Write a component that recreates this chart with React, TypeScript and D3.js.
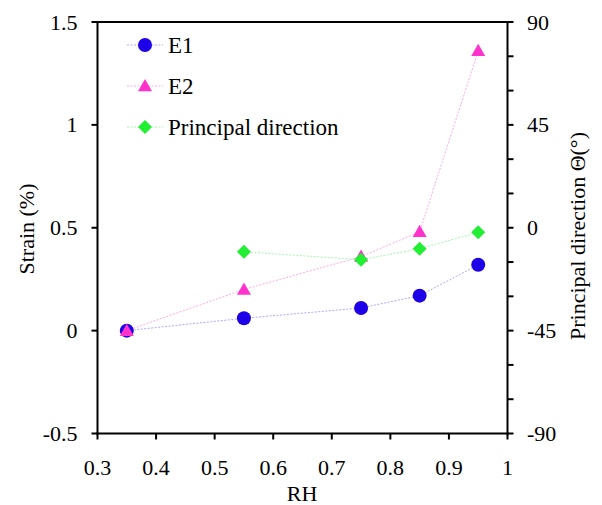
import React, { useEffect, useRef } from "react";
import * as d3 from "d3";

const rh = [0.35, 0.55, 0.75, 0.85, 0.95];
const e1 = [0.0, 0.06, 0.11, 0.17, 0.32];
const e2 = [0.0, 0.2, 0.36, 0.48, 1.36];
const pdX = [0.55, 0.75, 0.85, 0.95];
const pdVals = [-10.5, -14, -9.2, -2];
const xTicks = [0.3, 0.4, 0.5, 0.6, 0.7, 0.8, 0.9, 1];
const yTicks = [-0.5, 0, 0.5, 1, 1.5];
const y2Ticks = [-90, -75, -60, -45, -30, -15, 0, 15, 30, 45, 60, 75, 90];
const y2Labels = [-90, -45, 0, 45, 90];
const legendLabels = ["E1", "E2", "Principal direction"];

const W = 602, H = 505;
const L = 97.5, R = 507.5, T = 22, B = 433.5;
const FONT = '"Liberation Serif"';

export default function App() {
  const ref = useRef<SVGSVGElement>(null);

  useEffect(() => {
    const svg = d3.select(ref.current);
    svg.selectAll("*").remove();

    const x = d3.scaleLinear().domain([0.3, 1]).range([L, R]);
    const y = d3.scaleLinear().domain([-0.5, 1.5]).range([B, T]);
    const y2 = d3.scaleLinear().domain([-90, 90]).range([B, T]);
    const line = d3.line<[number, number]>().x(d => d[0]).y(d => d[1]);

    const e1Pts: [number, number][] = rh.map((v, i) => [x(v), y(e1[i])]);
    const e2Pts: [number, number][] = rh.map((v, i) => [x(v), y(e2[i])]);
    const pdPts: [number, number][] = pdX.map((v, i) => [x(v), y2(pdVals[i])]);

    const cBlue = "#1e00e8", cPink = "#ff33cc", cGreen = "#22ee33";
    const lBlue = "#b0a8ff", lPink = "#ffaae6", lGreen = "#a8f5b0";

    const tri = (cx: number, cy: number, s = 7) =>
      `M${cx},${cy - s} L${cx + s},${cy + s * 0.75} L${cx - s},${cy + s * 0.75} Z`;
    const dia = (cx: number, cy: number, s = 7) =>
      `M${cx},${cy - s} L${cx + s},${cy} L${cx},${cy + s} L${cx - s},${cy} Z`;

    svg.append("rect").attr("width", W).attr("height", H).attr("fill", "#fff");

    const series: [[number, number][], string][] = [[e1Pts, lBlue], [e2Pts, lPink], [pdPts, lGreen]];
    series.forEach(([pts, c]) => {
      svg.append("path").attr("d", line(pts) || "").attr("fill", "none")
        .attr("stroke", c).attr("stroke-width", 1).attr("stroke-dasharray", "2,1.5");
    });
    e1Pts.forEach(p => svg.append("circle").attr("cx", p[0]).attr("cy", p[1]).attr("r", 7).attr("fill", cBlue));
    e2Pts.forEach(p => svg.append("path").attr("d", tri(p[0], p[1])).attr("fill", cPink));
    pdPts.forEach(p => svg.append("path").attr("d", dia(p[0], p[1])).attr("fill", cGreen));

    const ax = svg.append("g").attr("stroke", "#000").attr("stroke-width", 2).attr("fill", "none");
    ax.append("line").attr("x1", L).attr("y1", T).attr("x2", L).attr("y2", B + 1);
    ax.append("line").attr("x1", L - 1).attr("y1", B).attr("x2", R + 1).attr("y2", B);
    ax.append("line").attr("x1", R).attr("y1", T).attr("x2", R).attr("y2", B + 1);
    ax.append("line").attr("x1", L - 1).attr("y1", T).attr("x2", R + 1).attr("y2", T);
    yTicks.forEach(t => ax.append("line").attr("x1", L - 6).attr("x2", L).attr("y1", y(t)).attr("y2", y(t)));
    xTicks.forEach(t => ax.append("line").attr("x1", x(t)).attr("x2", x(t)).attr("y1", B).attr("y2", B + 6));
    y2Ticks.forEach(t => ax.append("line").attr("x1", R).attr("x2", R + 6).attr("y1", y2(t)).attr("y2", y2(t)));

    const txt = (s: string, px: number, py: number, anchor: string, size = 22, transform?: string) => {
      const t = svg.append("text")
        .attr("x", px).attr("y", py)
        .attr("text-anchor", anchor)
        .attr("font-family", "Liberation Serif")
        .attr("font-size", size)
        .attr("fill", "#000")
        .style("font-family", FONT)
        .style("font-size", `${size}px`)
        .text(s);
      if (transform) t.attr("transform", transform);
      return t;
    };

    yTicks.forEach(t => txt(String(t), L - 20, y(t) + 7.5, "end"));
    xTicks.forEach(t => txt(String(t), x(t), 475, "middle"));
    y2Labels.forEach(t => txt(String(t), 527, y2(t) + 7.5, "start"));
    txt("RH", 302, 501, "middle");
    txt("Strain (%)", 0, 0, "middle", 22, "translate(34,229) rotate(-90)");
    txt("Principal direction Θ(°)", 0, 0, "middle", 22, "translate(585,236) rotate(-90)");

    const legendY = [45, 86, 127];
    const legendLine = [lBlue, lPink, lGreen];
    legendLabels.forEach((lab, i) => {
      const ly = legendY[i];
      svg.append("line").attr("x1", 127).attr("x2", 163).attr("y1", ly).attr("y2", ly)
        .attr("stroke", legendLine[i]).attr("stroke-width", 1).attr("stroke-dasharray", "2,1.5");
      if (i === 0) svg.append("circle").attr("cx", 145).attr("cy", ly).attr("r", 7).attr("fill", cBlue);
      if (i === 1) svg.append("path").attr("d", tri(145, ly)).attr("fill", cPink);
      if (i === 2) svg.append("path").attr("d", dia(145, ly)).attr("fill", cGreen);
      txt(lab, 168, ly + 8, "start", 23);
    });
  }, []);

  return (
    <svg ref={ref} width={W} height={H}
      style={{ position: "absolute", left: 0, top: 0, background: "#fff" }} />
  );
}
